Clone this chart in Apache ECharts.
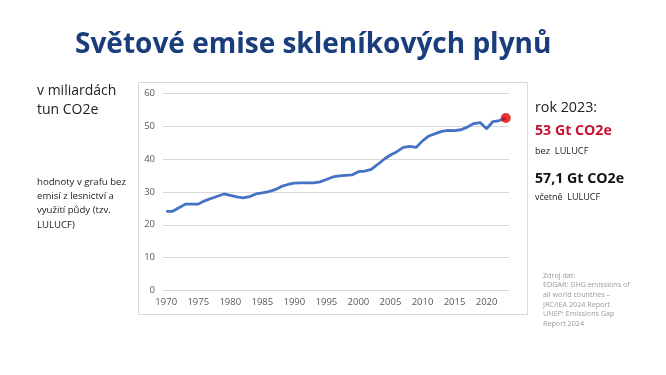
<!DOCTYPE html>
<html><head><meta charset="utf-8">
<script src="https://cdn.jsdelivr.net/npm/echarts@6/dist/echarts.min.js"></script>
<style>html,body{margin:0;padding:0;background:#fff}#c{width:666px;height:375px}</style>
</head><body><div id="c"></div>
<script>
const years = [];
for (let y = 1970; y <= 2023; y++) years.push(String(y));
const emissions = [24.1,24.1,25.2,26.3,26.3,26.3,27.3,28.0,28.7,29.4,
  29.0,28.5,28.2,28.6,29.4,29.7,30.1,30.7,31.7,32.3,
  32.7,32.8,32.8,32.8,33.1,33.8,34.6,34.9,35.1,35.2,
  36.2,36.4,36.9,38.4,40.0,41.3,42.3,43.6,43.9,43.6,
  45.6,47.1,47.8,48.5,48.8,48.7,49.0,49.8,50.9,51.2,
  49.3,51.5,51.8,52.6];
const yTicks = [0,10,20,30,40,50,60];
const titleText = 'Světové emise skleníkových plynů';
const unitLines = ['v miliardách','tun CO2e'];
const noteLines = ['hodnoty v grafu bez','emisí z lesnictví a','využití půdy (tzv.','LULUCF)'];
const sourceLines = ['Zdroj dat:','EDGAR: GHG emissions of','all world countries –','JRC/IEA 2024 Report','UNEP: Emissions Gap','Report 2024'];

const F = '"Open Sans", sans-serif';
const chart = echarts.init(document.getElementById('c'), null, {renderer:'canvas'});
const lastIdx = emissions.length - 1;
chart.setOption({
  backgroundColor:'#fff',
  animation:false,
  grid:{left:163, right:157, top:93.7, bottom:84.7, containLabel:false},
  xAxis:{type:'category', data:years, boundaryGap:true,
    axisLine:{show:true, lineStyle:{color:'#d9d9d9'}},
    axisTick:{show:false},
    axisLabel:{interval:4, color:'#595959', fontSize:9.5, fontFamily:F, margin:7}},
  yAxis:{type:'value', min:yTicks[0], max:yTicks[yTicks.length-1], interval:10,
    axisLine:{show:false}, axisTick:{show:false},
    splitLine:{lineStyle:{color:'#d9d9d9'}},
    axisLabel:{color:'#595959', fontSize:9.5, fontFamily:F, margin:8}},
  series:[
    {type:'line', data:emissions, symbol:'none', lineStyle:{color:'#4472C4', width:2.8}, z:2},
    {type:'scatter', data:[[years[lastIdx], emissions[lastIdx]]], symbolSize:10,
      itemStyle:{color:'#e00000'}, z:3}
  ],
  graphic:[
    {type:'rect', shape:{x:138.5, y:82.5, width:389, height:232}, style:{fill:'none', stroke:'#d9d9d9', lineWidth:1}, z:-1},
    {type:'text', left:75, top:31, style:{text:titleText, font:'bold 28px '+F, fill:'#1a3d7c'}},
    {type:'text', left:37, top:82, style:{text:unitLines.join('\n'), font:'14px '+F, lineHeight:18.5, fill:'#222'}},
    {type:'text', left:37, top:175, style:{text:noteLines.join('\n'), font:'9.6px '+F, lineHeight:14.3, fill:'#222'}},
    {type:'text', left:535, top:101, style:{text:'rok 2023:', font:'14.3px '+F, fill:'#222'}},
    {type:'text', left:535, top:124, style:{text:'53 Gt CO2e', font:'bold 14.2px '+F, fill:'#c8102e'}},
    {type:'text', left:535, top:147, style:{text:'bez  LULUCF', font:'9.2px '+F, fill:'#222'}},
    {type:'text', left:535, top:171.5, style:{text:'57,1 Gt CO2e', font:'bold 14.2px '+F, fill:'#111'}},
    {type:'text', left:535, top:193, style:{text:'včetně  LULUCF', font:'9px '+F, fill:'#222'}},
    {type:'text', left:543, top:271, style:{text:sourceLines.join('\n'), font:'7.2px '+F, lineHeight:9.6, fill:'#9a9a9a'}}
  ]
});
</script></body></html>
